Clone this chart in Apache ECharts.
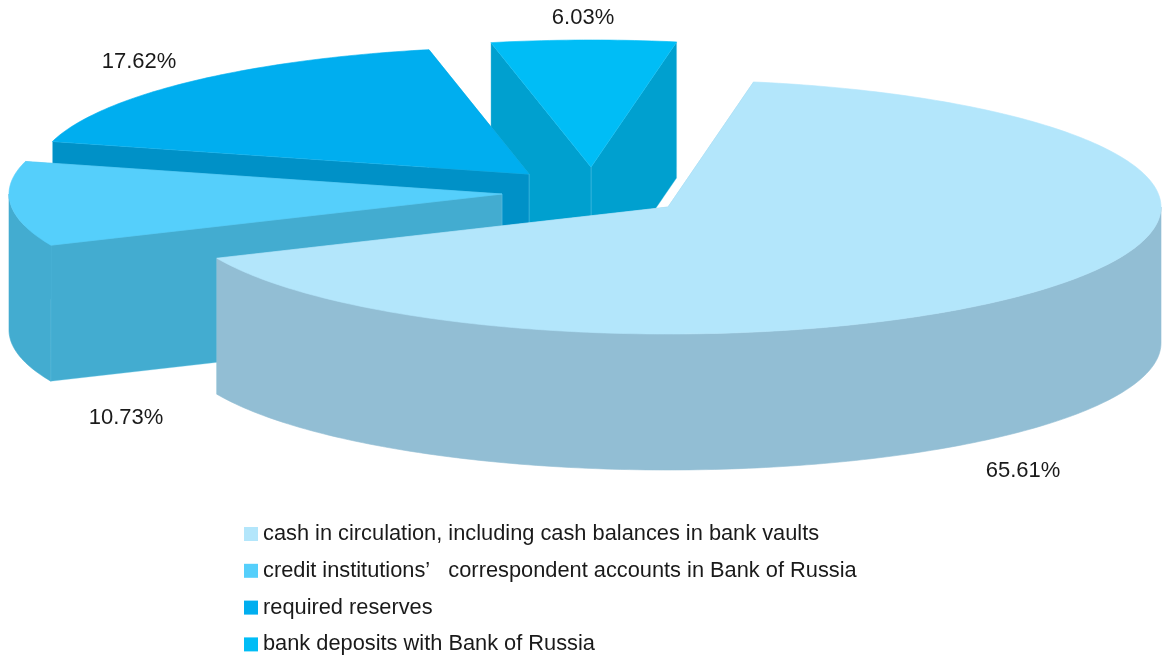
<!DOCTYPE html>
<html><head><meta charset="utf-8">
<style>html,body{margin:0;padding:0;background:#fff}#c{width:1162px;height:656px}</style>
<script src="https://cdn.jsdelivr.net/npm/echarts@6/dist/echarts.min.js"></script>
</head><body><div id="c"></div>
<script>
const categories = [
  'cash in circulation, including cash balances in bank vaults',
  'credit institutions’   correspondent accounts in Bank of Russia',
  'required reserves',
  'bank deposits with Bank of Russia'
];
const shares = [65.61, 10.73, 17.62, 6.03];
const topColors = ['#b3e6fb', '#55cffb', '#00aeef', '#00bdf6'];
const wallColors = ['#92bed4', '#43acd0', '#0091c7', '#00a0cf'];
const apexes = [[668, 207], [502, 194], [529, 174], [591, 167]];
const labelAnchors = [[1023, 471], [126, 418], [139, 62], [583, 18]];

const FONT = '"Liberation Sans", Arial, sans-serif';
const RX = 493, RY = 127, DEPTH = 136, START_DEG = 10;
const total = shares.reduce((a, b) => a + b, 0);

function pt(apex, deg) {
  const r = deg * Math.PI / 180;
  return [apex[0] + RX * Math.sin(r), apex[1] - RY * Math.cos(r)];
}
function arc(apex, a0, a1) {
  const out = [], n = Math.max(2, Math.ceil(Math.abs(a1 - a0)));
  for (let i = 0; i <= n; i++) out.push(pt(apex, a0 + (a1 - a0) * i / n));
  return out;
}
const down = p => [p[0], p[1] + DEPTH];
function poly(points, fill, stroke) {
  return { type: 'polygon', shape: { points }, style: { fill, stroke: stroke || fill, lineWidth: 0.6 } };
}
function makeRender(i) {
  return function (params, api) {
    const before = shares.slice(0, i).reduce((a, b) => a + b, 0);
    const a0 = START_DEG + before / total * 360;
    const a1 = a0 + api.value(0) / total * 360;
    const apex = apexes[i];
    const wall = wallColors[i], top = topColors[i];
    const radial = d => {
      const e = pt(apex, d);
      return poly([apex, e, down(e), down(apex)], wall, 'rgba(120,205,235,0.55)');
    };
    const edges = [a0, a1].sort((x, y) => Math.cos(y * Math.PI / 180) - Math.cos(x * Math.PI / 180));
    const children = edges.map(radial);
    const f0 = Math.max(a0, 90), f1 = Math.min(a1, 270);
    if (f1 > f0) {
      const t = arc(apex, f0, f1);
      children.push(poly(t.concat(t.map(down).reverse()), wall));
    }
    children.push(poly([apex].concat(arc(apex, a0, a1)), top));
    children.push({
      type: 'text',
      style: {
        text: api.value(0).toFixed(2) + '%',
        x: labelAnchors[i][0], y: labelAnchors[i][1],
        align: 'center', verticalAlign: 'middle',
        fill: '#1a1a1a', font: '22px ' + FONT
      }
    });
    return { type: 'group', children };
  };
}
// nearer slices get a higher z, so they overlap the slices behind them
const series = categories.map((name, i) => ({
  type: 'custom',
  name,
  coordinateSystem: 'none',
  z: 9 - i,
  silent: true,
  itemStyle: { color: topColors[i] },
  data: [[shares[i]]],
  renderItem: makeRender(i)
}));

const chart = echarts.init(document.getElementById('c'), null, { renderer: 'canvas' });
chart.setOption({
  animation: false,
  backgroundColor: '#ffffff',
  legend: {
    data: categories,
    orient: 'vertical',
    left: 244, top: 523, height: 140,
    icon: 'rect',
    itemWidth: 14, itemHeight: 14, itemGap: 14.8,
    selectedMode: false,
    textStyle: { color: '#1a1a1a', fontSize: 21.8, fontFamily: FONT },
    padding: 0
  },
  series
});
</script></body></html>
